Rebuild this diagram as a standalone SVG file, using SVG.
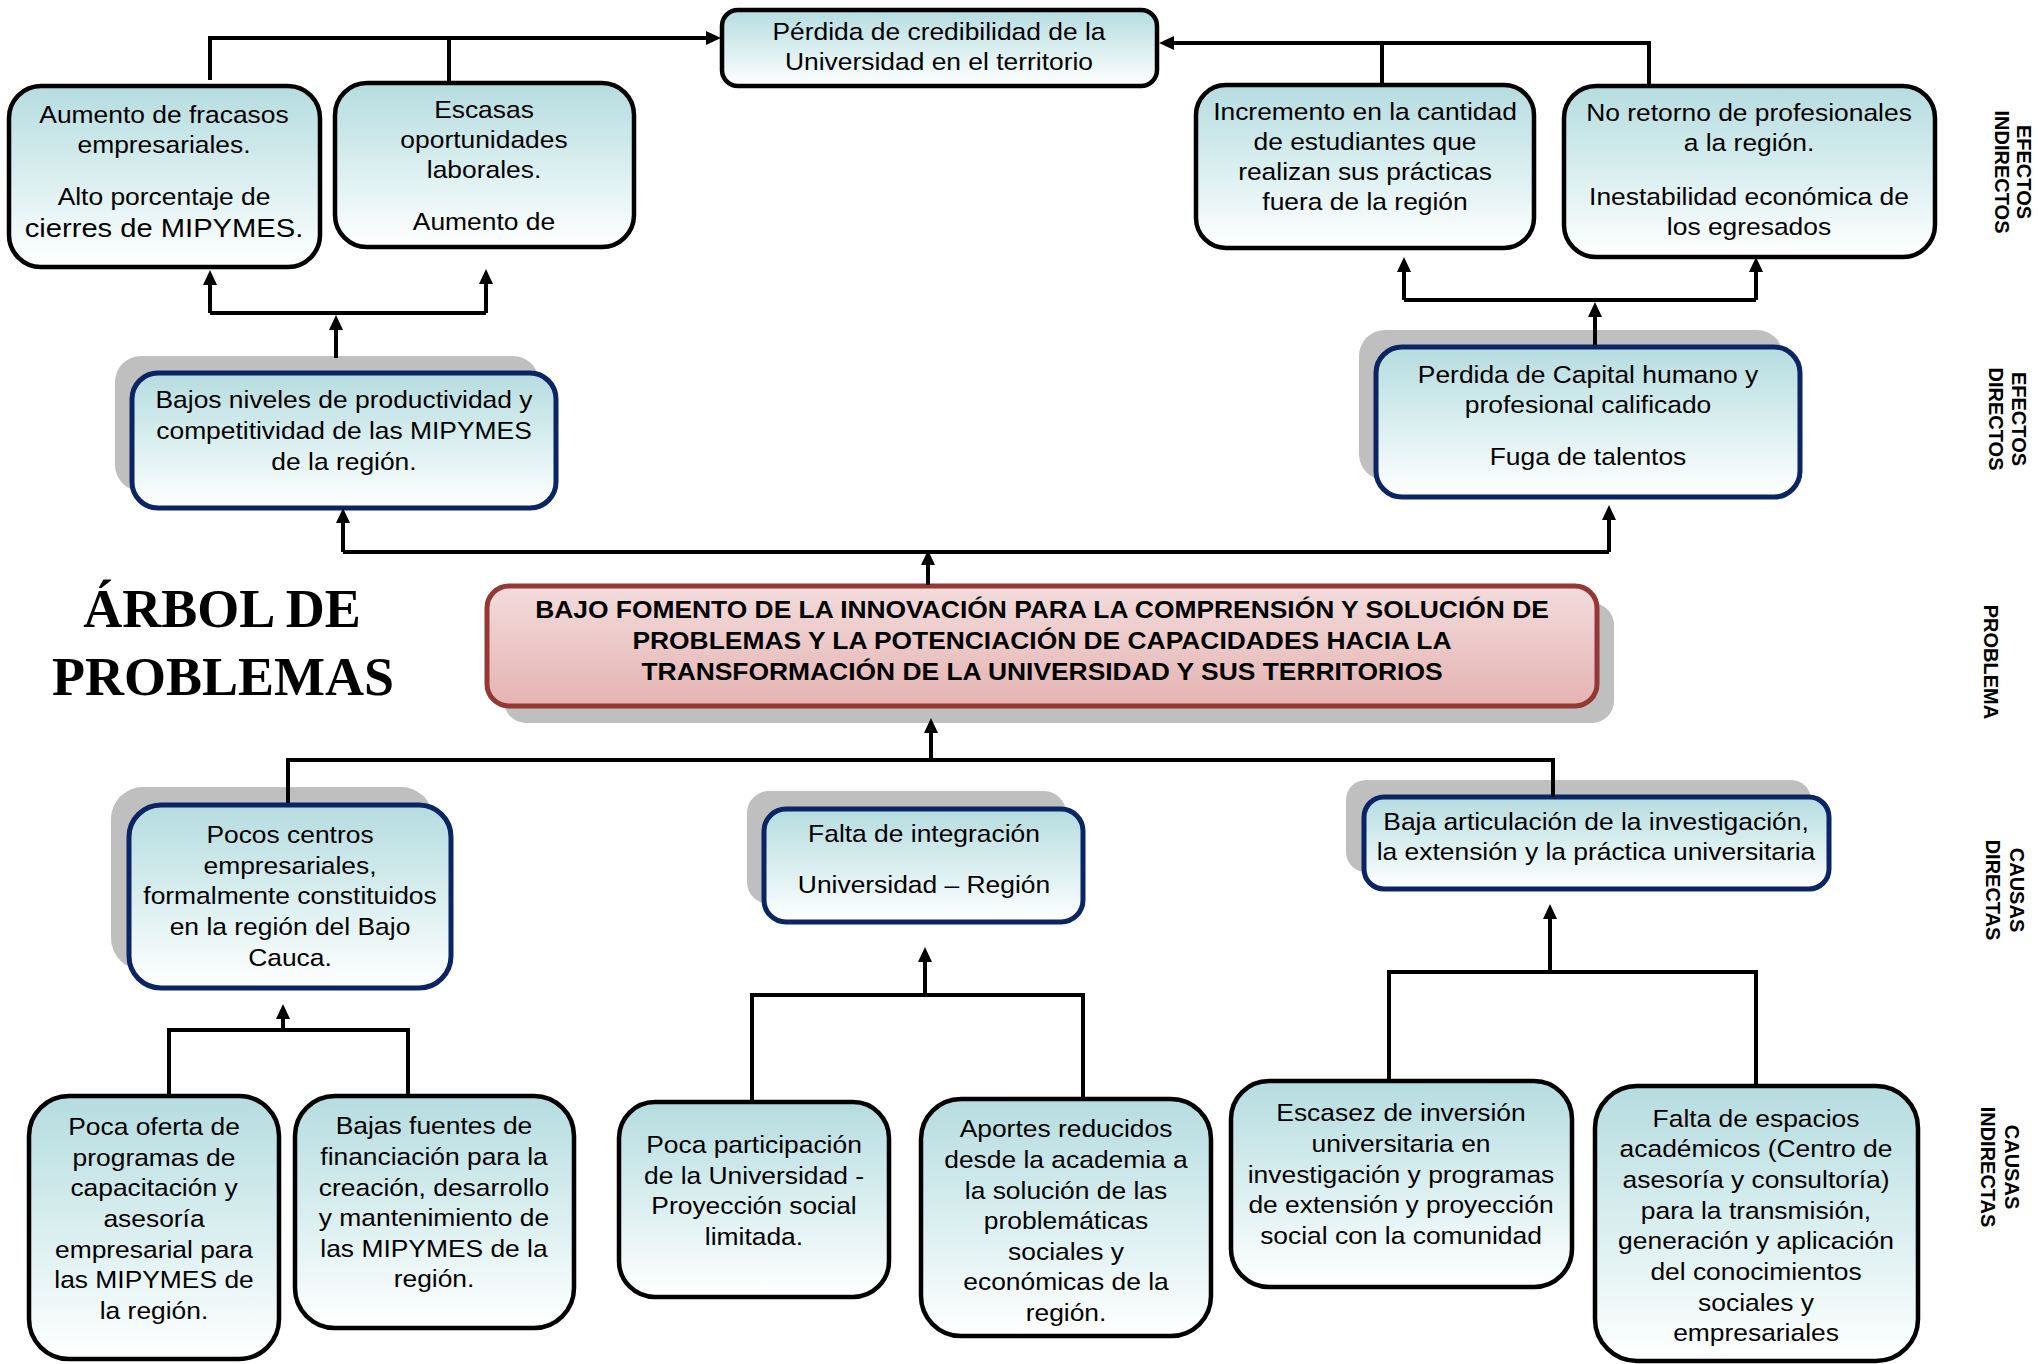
<svg xmlns="http://www.w3.org/2000/svg" width="2038" height="1364" viewBox="0 0 2038 1364">
<defs>
<linearGradient id="gb" x1="0" y1="0" x2="0" y2="1">
<stop offset="0" stop-color="#b5dce0"/>
<stop offset="0.5" stop-color="#d9eeef"/>
<stop offset="1" stop-color="#ffffff"/>
</linearGradient>
<linearGradient id="gr" x1="0" y1="0" x2="0" y2="1">
<stop offset="0" stop-color="#f3dcdc"/>
<stop offset="1" stop-color="#e4b3b2"/>
</linearGradient>
<marker id="ah" viewBox="0 0 15 14" refX="5" refY="7" markerWidth="15" markerHeight="14" orient="auto" markerUnits="userSpaceOnUse">
<path d="M0,0 L15,7 L0,14 z" fill="#000"/>
</marker>
<style>
.bi{fill:url(#gb);stroke:#000;stroke-width:4.5}
.bd{fill:url(#gb);stroke:#0b2463;stroke-width:5}
.sh{fill:#bfbfbf}
.bp{fill:url(#gr);stroke:#953735;stroke-width:5}
.t{font-family:"Liberation Sans",Arial,sans-serif;font-size:24px;fill:#000;text-anchor:middle}
.tb{font-weight:bold}
.side{font-family:"Liberation Sans",Arial,sans-serif;font-weight:bold;font-size:20px;fill:#000;text-anchor:middle}
.title{font-family:"Liberation Serif","Times New Roman",serif;font-weight:bold;font-size:54px;fill:#000;text-anchor:middle}
.c path{fill:none;stroke:#000;stroke-width:4}
.c path.a{marker-end:url(#ah)}
</style>
</defs>
<rect width="2038" height="1364" fill="#fff"/>

<g id="n-perdida-credibilidad">
<rect class="bi" x="722" y="10" width="435" height="76" rx="16"/>
<g transform="translate(939 0) scale(1.1 1)"><text class="t"><tspan x="0" y="40">Pérdida de credibilidad de la</tspan><tspan x="0" y="70">Universidad en el territorio</tspan></text></g>
</g>

<g id="n-aumento-fracasos">
<rect class="bi" x="9" y="86" width="311" height="181" rx="32"/>
<g transform="translate(164 0) scale(1.1 1)"><text class="t"><tspan x="0" y="123">Aumento de fracasos</tspan><tspan x="0" y="153">empresariales.</tspan><tspan x="0" y="205">Alto porcentaje de</tspan><tspan x="0" y="237" font-size="26.5">cierres de MIPYMES.</tspan></text></g>
</g>

<g id="n-escasas">
<rect class="bi" x="335" y="83" width="299" height="164" rx="32"/>
<g transform="translate(484 0) scale(1.1 1)"><text class="t"><tspan x="0" y="118">Escasas</tspan><tspan x="0" y="148">oportunidades</tspan><tspan x="0" y="178">laborales.</tspan><tspan x="0" y="230">Aumento de</tspan></text></g>
</g>

<g id="n-incremento">
<rect class="bi" x="1196" y="85" width="338" height="163" rx="30"/>
<g transform="translate(1365 0) scale(1.1 1)"><text class="t"><tspan x="0" y="120">Incremento en la cantidad</tspan><tspan x="0" y="150">de estudiantes que</tspan><tspan x="0" y="180">realizan sus prácticas</tspan><tspan x="0" y="210">fuera de la región</tspan></text></g>
</g>

<g id="n-no-retorno">
<rect class="bi" x="1564" y="86" width="371" height="171" rx="32"/>
<g transform="translate(1749 0) scale(1.1 1)"><text class="t"><tspan x="0" y="121">No retorno de profesionales</tspan><tspan x="0" y="151">a la región.</tspan><tspan x="0" y="205">Inestabilidad económica de</tspan><tspan x="0" y="235">los egresados</tspan></text></g>
</g>

<g id="n-bajos-niveles">
<rect class="sh" x="115" y="356" width="424" height="135" rx="26"/>
<rect class="bd" x="132" y="373" width="424" height="135" rx="26"/>
<g transform="translate(344 0) scale(1.1 1)"><text class="t"><tspan x="0" y="408">Bajos niveles de productividad y</tspan><tspan x="0" y="439">competitividad de las MIPYMES</tspan><tspan x="0" y="470">de la región.</tspan></text></g>
</g>

<g id="n-perdida-capital">
<rect class="sh" x="1359" y="330" width="424" height="150" rx="26"/>
<rect class="bd" x="1376" y="347" width="424" height="150" rx="26"/>
<g transform="translate(1588 0) scale(1.1 1)"><text class="t"><tspan x="0" y="383">Perdida de Capital humano y</tspan><tspan x="0" y="413">profesional calificado</tspan><tspan x="0" y="465">Fuga de talentos</tspan></text></g>
</g>

<g id="title">
<text class="title"><tspan x="222" y="627">ÁRBOL DE</tspan><tspan x="223" y="695">PROBLEMAS</tspan></text>
</g>

<g id="n-problema">
<rect class="sh" x="504" y="603" width="1110" height="120" rx="22"/>
<rect class="bp" x="487" y="586" width="1110" height="120" rx="22"/>
<g transform="translate(1042 0) scale(1.1 1)"><text class="t tb"><tspan x="0" y="618">BAJO FOMENTO DE LA INNOVACIÓN PARA LA COMPRENSIÓN Y SOLUCIÓN DE</tspan><tspan x="0" y="649">PROBLEMAS Y LA POTENCIACIÓN DE CAPACIDADES HACIA LA</tspan><tspan x="0" y="680">TRANSFORMACIÓN DE LA UNIVERSIDAD Y SUS TERRITORIOS</tspan></text></g>
</g>

<g id="n-pocos-centros">
<rect class="sh" x="111" y="787" width="322" height="183" rx="32"/>
<rect class="bd" x="129" y="805" width="322" height="183" rx="32"/>
<g transform="translate(290 0) scale(1.1 1)"><text class="t"><tspan x="0" y="843">Pocos centros</tspan><tspan x="0" y="874">empresariales,</tspan><tspan x="0" y="904">formalmente constituidos</tspan><tspan x="0" y="935">en la región del Bajo</tspan><tspan x="0" y="966">Cauca.</tspan></text></g>
</g>

<g id="n-falta-integracion">
<rect class="sh" x="747" y="791" width="319" height="113" rx="22"/>
<rect class="bd" x="764" y="809" width="319" height="113" rx="22"/>
<g transform="translate(924 0) scale(1.1 1)"><text class="t"><tspan x="0" y="842">Falta de integración</tspan><tspan x="0" y="893">Universidad – Región</tspan></text></g>
</g>

<g id="n-baja-articulacion">
<rect class="sh" x="1346" y="780" width="465" height="92" rx="20"/>
<rect class="bd" x="1364" y="797" width="465" height="92" rx="20"/>
<g transform="translate(1596 0) scale(1.1 1)"><text class="t"><tspan x="0" y="830">Baja articulación de la investigación,</tspan><tspan x="0" y="860">la extensión y la práctica universitaria</tspan></text></g>
</g>

<g id="n-poca-oferta">
<rect class="bi" x="29" y="1096" width="250" height="263" rx="40"/>
<g transform="translate(154 0) scale(1.1 1)"><text class="t"><tspan x="0" y="1135">Poca oferta de</tspan><tspan x="0" y="1166">programas de</tspan><tspan x="0" y="1196">capacitación y</tspan><tspan x="0" y="1227">asesoría</tspan><tspan x="0" y="1258">empresarial para</tspan><tspan x="0" y="1288">las MIPYMES de</tspan><tspan x="0" y="1319">la región.</tspan></text></g>
</g>

<g id="n-bajas-fuentes">
<rect class="bi" x="295" y="1096" width="279" height="232" rx="40"/>
<g transform="translate(434 0) scale(1.1 1)"><text class="t"><tspan x="0" y="1134">Bajas fuentes de</tspan><tspan x="0" y="1165">financiación para la</tspan><tspan x="0" y="1196">creación, desarrollo</tspan><tspan x="0" y="1226">y mantenimiento de</tspan><tspan x="0" y="1257">las MIPYMES de la</tspan><tspan x="0" y="1287">región.</tspan></text></g>
</g>

<g id="n-poca-participacion">
<rect class="bi" x="619" y="1102" width="270" height="195" rx="36"/>
<g transform="translate(754 0) scale(1.1 1)"><text class="t"><tspan x="0" y="1153">Poca participación</tspan><tspan x="0" y="1184">de la Universidad -</tspan><tspan x="0" y="1214">Proyección social</tspan><tspan x="0" y="1245">limitada.</tspan></text></g>
</g>

<g id="n-aportes">
<rect class="bi" x="921" y="1099" width="290" height="237" rx="40"/>
<g transform="translate(1066 0) scale(1.1 1)"><text class="t"><tspan x="0" y="1137">Aportes reducidos</tspan><tspan x="0" y="1168">desde la academia a</tspan><tspan x="0" y="1199">la solución de las</tspan><tspan x="0" y="1229">problemáticas</tspan><tspan x="0" y="1260">sociales y</tspan><tspan x="0" y="1290">económicas de la</tspan><tspan x="0" y="1321">región.</tspan></text></g>
</g>

<g id="n-escasez">
<rect class="bi" x="1231" y="1081" width="341" height="206" rx="38"/>
<g transform="translate(1401 0) scale(1.1 1)"><text class="t"><tspan x="0" y="1121">Escasez de inversión</tspan><tspan x="0" y="1152">universitaria en</tspan><tspan x="0" y="1183">investigación y programas</tspan><tspan x="0" y="1213">de extensión y proyección</tspan><tspan x="0" y="1244">social con la comunidad</tspan></text></g>
</g>

<g id="n-falta-espacios">
<rect class="bi" x="1595" y="1086" width="323" height="275" rx="42"/>
<g transform="translate(1756 0) scale(1.1 1)"><text class="t"><tspan x="0" y="1127">Falta de espacios</tspan><tspan x="0" y="1157">académicos (Centro de</tspan><tspan x="0" y="1188">asesoría y consultoría)</tspan><tspan x="0" y="1219">para la transmisión,</tspan><tspan x="0" y="1249">generación y aplicación</tspan><tspan x="0" y="1280">del conocimientos</tspan><tspan x="0" y="1311">sociales y</tspan><tspan x="0" y="1341">empresariales</tspan></text></g>
</g>

<g id="labels">
<text class="side" transform="translate(2017 172) rotate(90)"><tspan x="0" y="0">EFECTOS</tspan><tspan x="0" y="22">INDIRECTOS</tspan></text>
<text class="side" transform="translate(2012 419) rotate(90)"><tspan x="0" y="0">EFECTOS</tspan><tspan x="0" y="23">DIRECTOS</tspan></text>
<text class="side" transform="translate(1984 662) rotate(90)"><tspan x="0" y="0">PROBLEMA</tspan></text>
<text class="side" transform="translate(2010 890) rotate(90)"><tspan x="0" y="0">CAUSAS</tspan><tspan x="0" y="24">DIRECTAS</tspan></text>
<text class="side" transform="translate(2005 1167) rotate(90)"><tspan x="0" y="0">CAUSAS</tspan><tspan x="0" y="24">INDIRECTAS</tspan></text>
</g>

<g id="connectors" class="c">
<path class="a" d="M210,80 V38 H711"/>
<path d="M449,83 V38"/>
<path class="a" d="M1649,86 V43 H1169"/>
<path d="M1382,85 V43"/>
<path class="a" d="M336,358 V325"/>
<path d="M210,313 H486"/>
<path class="a" d="M210,313 V280"/>
<path class="a" d="M486,313 V279"/>
<path class="a" d="M1595,345 V312"/>
<path d="M1404,300 H1756"/>
<path class="a" d="M1404,300 V267"/>
<path class="a" d="M1756,300 V267"/>
<path class="a" d="M928,585 V560"/>
<path d="M343,552 H1609"/>
<path class="a" d="M343,552 V518"/>
<path class="a" d="M1609,552 V515"/>
<path class="a" d="M931,760 V728"/>
<path d="M288,803 V760 H1553 V797"/>
<path class="a" d="M283,1030 V1014"/>
<path d="M169,1096 V1030 H408 V1096"/>
<path class="a" d="M925,995 V957"/>
<path d="M752,1102 V995 H1083 V1099"/>
<path class="a" d="M1550,972 V914"/>
<path d="M1389,1081 V972 H1756 V1086"/>
</g>
</svg>
